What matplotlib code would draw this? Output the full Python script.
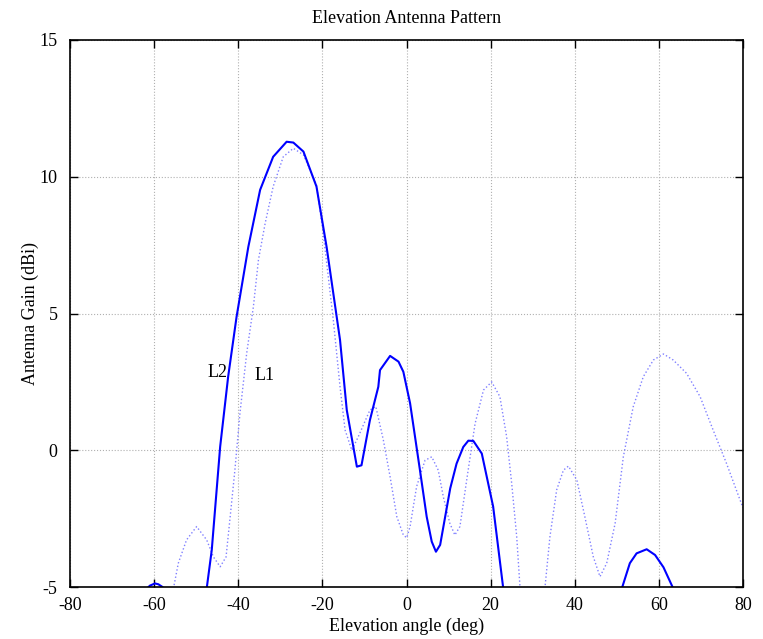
import matplotlib
matplotlib.use('Agg')
import matplotlib.pyplot as plt
import numpy as np

# L2 (solid) - elevation angle (deg) vs gain (dBi)
l2_angle = [-63, -62, -61, -59.8, -59, -58, -57.4, -52, -48, -47.5, -46.3, -44.3, -42.4, -40.4,
            -37.6, -34.8, -31.7, -28.5, -26.9, -24.5, -21.4, -19.0, -15.8, -14.2, -11.8,
            -10.7, -8.7, -6.7, -6.3, -3.9, -1.9, -0.75, 0.85, 3.2, 4.8, 6.0, 7.0, 8.0,
            10.4, 11.9, 13.5, 14.7, 15.9, 17.9, 20.6, 23.0, 23.5, 30, 40, 50.5, 51.2,
            53.1, 54.7, 57.1, 59.1, 61.1, 63.4, 64]
l2_gain = [-5.6, -5.1, -4.95, -4.87, -4.9, -5.0, -5.2, -12, -6.5, -5.05, -3.65, 0.13, 2.69, 4.88,
           7.44, 9.52, 10.73, 11.28, 11.25, 10.92, 9.64, 7.44, 4.03, 1.47, -0.6,
           -0.55, 1.1, 2.32, 2.93, 3.45, 3.24, 2.87, 1.72, -0.73, -2.43, -3.34, -3.71, -3.46,
           -1.39, -0.49, 0.12, 0.35, 0.34, -0.12, -2.06, -5.05, -5.5, -15, -15, -5.5, -5.05,
           -4.13, -3.77, -3.62, -3.83, -4.28, -5.05, -5.4]

# L1 (dotted)
l1_angle = [-80, -60, -55.4, -54.25, -52.3, -49.9, -47.5, -45.9, -44.3, -42.9, -42.0, -40.8,
            -39.6, -38.0, -36.4, -35.2, -33.6, -31.7, -29.3, -26.9, -24.5, -21.4, -19.8,
            -17.4, -15.8, -14.6, -13.0, -11.45, -8.7, -7.3, -5.5, -3.9, -2.3, -0.75, 0.05,
            0.85, 2.4, 4.4, 6.0, 7.55, 8.75, 10.3, 11.5, 12.7, 14.3, 16.3, 18.3, 20.25,
            22.2, 23.8, 25.0, 26.2, 27.0, 27.5, 30, 32.4, 32.9, 34.1, 35.7, 37.3, 38.5,
            40.5, 42.4, 44.4, 46.0, 47.6, 49.6, 51.55, 53.9, 56.3, 58.7, 61.1, 63.4,
            66.6, 69.8, 72.9, 76.1, 79.3, 80]
l1_gain = [-15, -12, -5.05, -4.13, -3.28, -2.79, -3.28, -3.9, -4.26, -3.9, -2.55, -0.73,
           1.35, 3.54, 5.25, 6.96, 8.30, 9.64, 10.73, 11.04, 10.8, 9.7, 7.93,
           4.76, 2.32, 0.74, 0.0, 0.5, 1.47, 1.6, 0.37, -0.97, -2.43, -3.1, -3.2,
           -2.79, -1.33, -0.37, -0.24, -0.73, -1.7, -2.67, -3.1, -2.79, -1.1, 0.97, 2.2, 2.5,
           1.96, 0.5, -1.2, -3.16, -5.05, -5.6, -10, -5.6, -5.05, -3.16, -1.45, -0.73, -0.58,
           -1.09, -2.43, -3.89, -4.62, -4.13, -2.67, -0.24, 1.59, 2.69, 3.3, 3.52, 3.3,
           2.81, 1.96, 0.74, -0.49, -1.82, -2.1]

x_ticks = [-80, -60, -40, -20, 0, 20, 40, 60, 80]
y_ticks = [-5, 0, 5, 10, 15]

plt.rcParams.update({
    'font.family': ['Liberation Serif', 'DejaVu Serif'],
    'font.size': 13,
    'axes.unicode_minus': False,
    'xtick.direction': 'in',
    'ytick.direction': 'in',
    'xtick.top': True,
    'ytick.right': True,
    'xtick.major.size': 6,
    'ytick.major.size': 6,
})

fig = plt.figure(figsize=(7.63, 6.39), dpi=100)
ax = fig.add_axes([70 / 763, 1 - 587 / 639, 673 / 763, 547 / 639])

ax.plot(l1_angle, l1_gain, color='#8080ff', linestyle=':', linewidth=1.0)
ax.plot(l2_angle, l2_gain, color='#0000ff', linestyle='-', linewidth=1.5)

ax.text(-47.2, 2.85, 'L2', fontsize=13, va='center', ha='left')
ax.text(-36.2, 2.75, 'L1', fontsize=13, va='center', ha='left')

ax.set_xlim(-80, 80)
ax.set_ylim(-5, 15)
ax.set_xticks(x_ticks)
ax.set_yticks(y_ticks)
ax.grid(True, color='#b0b0b0', linestyle=':', linewidth=0.8)
for s in ax.spines.values():
    s.set_linewidth(1.2)
ax.tick_params(axis='x', width=1.0, pad=7)
ax.tick_params(axis='y', width=1.0, pad=9)

ax.set_title('Elevation Antenna Pattern', fontsize=13, pad=12)
ax.set_xlabel('Elevation angle (deg)', fontsize=13, labelpad=3)
ax.set_ylabel('Antenna Gain (dBi)', fontsize=13, labelpad=0)

plt.savefig('out.png', dpi=100)
